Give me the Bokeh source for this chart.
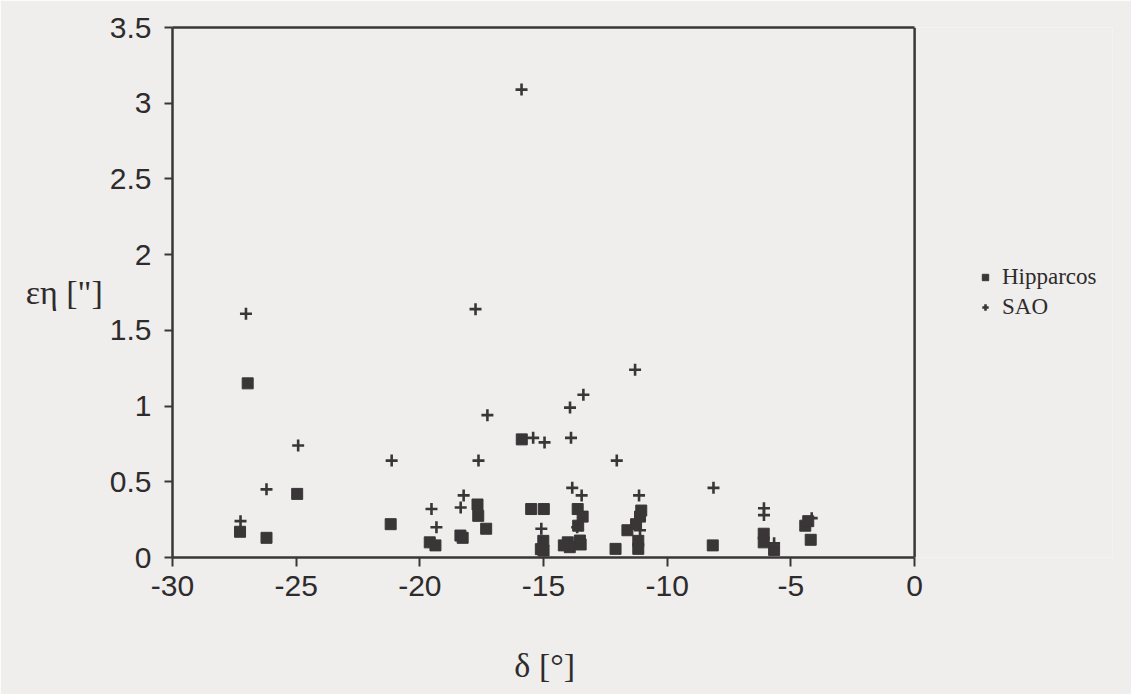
from bokeh.plotting import figure
from bokeh.models import (Range1d, FixedTicker, CustomJSTickFormatter,
                          Legend, LegendItem, LinearAxis, Span)
from bokeh.embed import file_html
from bokeh.resources import INLINE

# Hipparcos (filled squares): declination [deg], error [arcsec]
hip_dec = [-26.96, -24.96, -27.27, -26.2, -21.18,
           -15.88, -17.67, -17.64, -17.32, -19.6, -19.37, -18.36, -18.27,
           -15.5, -14.99, -15.01, -15.11, -15.0,
           -13.62, -13.42, -13.6, -14.02, -13.94, -13.53, -13.5, -14.18,
           -12.09, -11.05, -11.1, -11.26, -11.61, -11.17, -11.17,
           -8.16, -6.1, -6.1, -5.68, -4.42, -4.3, -4.2]
hip_err = [1.15, 0.42, 0.17, 0.13, 0.22,
           0.78, 0.35, 0.275, 0.19, 0.10, 0.08, 0.145, 0.13,
           0.32, 0.32, 0.11, 0.055, 0.046,
           0.32, 0.27, 0.21, 0.10, 0.068, 0.112, 0.086, 0.08,
           0.057, 0.31, 0.27, 0.22, 0.18, 0.11, 0.057,
           0.08, 0.157, 0.10, 0.05, 0.21, 0.24, 0.117]

# SAO (plus signs)
sao_dec = [-27.03, -15.89, -17.75, -11.3, -24.92, -26.2, -27.25, -21.14,
           -13.39, -13.93, -17.27, -15.42, -14.96, -13.89, -17.63, -12.04,
           -13.84, -13.46, -11.14, -18.23, -18.35, -19.53, -19.33, -15.09,
           -13.64, -11.1, -8.13, -6.09, -6.09, -5.68, -4.16]
sao_err = [1.61, 3.09, 1.64, 1.24, 0.74, 0.45, 0.24, 0.64,
           1.075, 0.99, 0.94, 0.79, 0.76, 0.79, 0.64, 0.64,
           0.46, 0.41, 0.41, 0.41, 0.33, 0.32, 0.20, 0.19,
           0.20, 0.18, 0.46, 0.325, 0.28, 0.094, 0.26]

x_ticks = [-30, -25, -20, -15, -10, -5, 0]
y_ticks = [0, 0.5, 1, 1.5, 2, 2.5, 3, 3.5]

BG = "#efeeec"
INK = "#3a3638"
TXT = "#2e2b2d"

# the frame runs on past x = 0 to leave room for the legend; the axes are
# bounded to -30..0 and a span closes the box at x = 0
p = figure(width=1131, height=694, output_backend="svg", toolbar_location=None,
           x_range=Range1d(-30, 8), y_range=Range1d(0, 3.5),
           min_border_left=172, min_border_right=19,
           min_border_top=27, min_border_bottom=137)
p.background_fill_color = BG
p.border_fill_color = BG
p.outline_line_color = None
p.xgrid.visible = False
p.ygrid.visible = False

fmt = CustomJSTickFormatter(code="return tick.toString();")
for ax in (p.xaxis[0], p.yaxis[0]):
    ax.axis_line_color = INK
    ax.axis_line_width = 2.5
    ax.major_tick_line_color = INK
    ax.major_tick_line_width = 2
    ax.major_tick_in = 0
    ax.minor_tick_line_color = None
    ax.formatter = fmt
    ax.major_label_text_font = "Liberation Sans"
    ax.major_label_text_font_size = "30px"
    ax.major_label_text_color = TXT
    ax.axis_label_text_font = "Liberation Serif"
    ax.axis_label_text_font_style = "normal"
    ax.axis_label_text_font_size = "34px"
    ax.axis_label_text_color = TXT

xa = p.xaxis[0]
xa.ticker = FixedTicker(ticks=x_ticks)
xa.bounds = (-30, 0)
xa.major_tick_out = 9
xa.major_label_standoff = 9
# trailing no-break spaces shift the centred title under -30..0
xa.axis_label = "δ [°]" + "\u00a0" * 23
xa.axis_label_standoff = 48

ya = p.yaxis[0]
ya.ticker = FixedTicker(ticks=y_ticks)
ya.major_tick_out = 8
ya.major_label_standoff = 13
ya.axis_label = 'εη ["]'
ya.axis_label_standoff = 4
ya.axis_label_orientation = "horizontal"

top = LinearAxis(bounds=(-30, 0), ticker=FixedTicker(ticks=[]),
                 axis_line_color=INK, axis_line_width=2.5,
                 major_tick_line_color=None, minor_tick_line_color=None,
                 major_label_text_font_size="0px")
p.add_layout(top, "above")
p.add_layout(Span(location=0, dimension="height", line_color=INK,
                  line_width=2.5))

r_hip = p.scatter(hip_dec, hip_err, marker="square", size=11,
                  fill_color=INK, line_color=INK)
r_sao = p.scatter(sao_dec, sao_err, marker="cross", size=12,
                  line_color=INK, line_width=2.6)

legend = Legend(items=[LegendItem(label="Hipparcos", renderers=[r_hip]),
                       LegendItem(label="SAO", renderers=[r_sao])],
                location=(805, 237), padding=0, margin=0, spacing=4,
                glyph_width=16, glyph_height=24, label_height=24,
                label_standoff=9, border_line_color=None,
                background_fill_alpha=0,
                label_text_font="Liberation Serif",
                label_text_font_size="23px", label_text_color=TXT)
p.add_layout(legend)

open("out.html", "w").write(file_html(p, INLINE))
